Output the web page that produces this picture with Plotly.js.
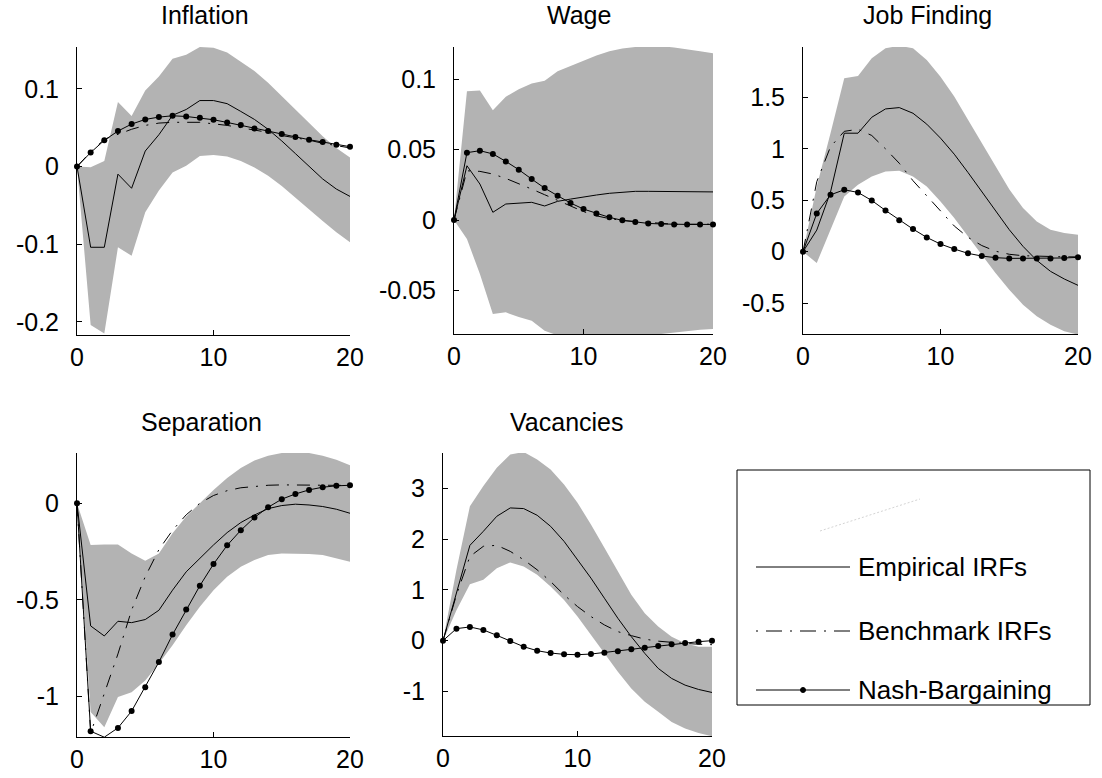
<!DOCTYPE html>
<html><head><meta charset="utf-8">
<script src="https://cdn.plot.ly/plotly-3.0.1.min.js"></script>
<style>html,body{margin:0;padding:0;background:#fff}</style>
</head><body><div id="chart" style="width:1102px;height:778px"></div>
<script>
// ---------- data ----------
const horizon = [0,1,2,3,4,5,6,7,8,9,10,11,12,13,14,15,16,17,18,19,20];
const panelTitles = ["Inflation","Wage","Job Finding","Separation","Vacancies"];
const seriesNames = ["Empirical IRFs","Benchmark IRFs","Nash-Bargaining"];
const xTickVals = [0,10,20];
const xTickText = ["0","10","20"];

const inflationTickVals = [0.1,0,-0.1,-0.2];
const inflationTickText = ["0.1","0","-0.1","-0.2"];
const inflationEmpirical = [0,-0.104,-0.104,-0.0098,-0.028,0.020,0.041,0.066,0.0735,0.085,0.085,0.081,0.071,0.0607,0.048,0.033,0.0167,0,-0.016,-0.029,-0.0385];
const inflationBenchmark = [0,0.019,0.035,0.042,0.048,0.053,0.056,0.057,0.057,0.057,0.055,0.053,0.050,0.047,0.044,0.040,0.037,0.034,0.030,0.027,0.024];
const inflationNash = [0,0.018,0.0338,0.0457,0.0547,0.0607,0.0637,0.0654,0.0645,0.0628,0.0603,0.0568,0.0534,0.0491,0.0457,0.0419,0.038,0.0346,0.0316,0.0282,0.0256];
const inflationUpper = [0,-0.001,0.007,0.083,0.065,0.098,0.116,0.139,0.144,0.154,0.153,0.147,0.135,0.123,0.108,0.091,0.0735,0.056,0.039,0.024,0.0115];
const inflationLower = [0,-0.204,-0.215,-0.104,-0.115,-0.059,-0.031,-0.0077,0.0009,0.0137,0.015,0.0128,0.0073,-0.0013,-0.012,-0.025,-0.040,-0.055,-0.070,-0.0846,-0.0974];

const wageTickVals = [0.1,0.05,0,-0.05];
const wageTickText = ["0.1","0.05","0","-0.05"];
const wageEmpirical = [0,0.0386,0.0256,0.0055,0.0114,0.0118,0.0126,0.010,0.0133,0.0149,0.0166,0.0178,0.019,0.0199,0.0204,0.0204,0.0204,0.0202,0.0202,0.0200,0.0200];
const wageBenchmark = [0,0.035,0.0346,0.0327,0.0296,0.026,0.022,0.018,0.014,0.010,0.006,0.003,0.001,-0.0003,-0.001,-0.002,-0.0025,-0.003,-0.003,-0.003,-0.003];
const wageNash = [0,0.0479,0.0493,0.047,0.0417,0.0358,0.0291,0.0227,0.0173,0.0121,0.0078,0.0047,0.0019,-0.0002,-0.0014,-0.0024,-0.0028,-0.0031,-0.0031,-0.0031,-0.0031];
const wageUpper = [0,0.0915,0.092,0.078,0.0877,0.093,0.097,0.099,0.1057,0.1095,0.113,0.117,0.120,0.122,0.123,0.1235,0.1235,0.1227,0.1216,0.120,0.1185];
const wageLower = [0,-0.0135,-0.0384,-0.0668,-0.0656,-0.069,-0.0716,-0.0787,-0.082,-0.084,-0.086,-0.087,-0.088,-0.088,-0.087,-0.085,-0.081,-0.080,-0.079,-0.078,-0.0775];

const jobTickVals = [1.5,1,0.5,0,-0.5];
const jobTickText = ["1.5","1","0.5","0","-0.5"];
const jobEmpirical = [0,0.21,0.58,1.152,1.152,1.307,1.388,1.401,1.346,1.24,1.104,0.948,0.770,0.586,0.392,0.214,0.052,-0.084,-0.191,-0.265,-0.327];
const jobBenchmark = [0,0.68,1.02,1.17,1.19,1.13,1.0,0.86,0.69,0.54,0.39,0.25,0.14,0.06,0.005,-0.025,-0.039,-0.045,-0.05,-0.05,-0.05];
const jobNash = [0,0.372,0.553,0.602,0.576,0.498,0.401,0.307,0.220,0.139,0.074,0.026,-0.016,-0.042,-0.058,-0.065,-0.065,-0.065,-0.065,-0.061,-0.055];
const jobUpper = [0,0.634,1.152,1.686,1.709,1.880,1.977,2.003,1.977,1.864,1.702,1.508,1.282,1.055,0.828,0.608,0.424,0.294,0.214,0.181,0.165];
const jobLower = [0,-0.11,0.214,0.537,0.65,0.731,0.78,0.786,0.731,0.634,0.489,0.327,0.149,-0.029,-0.207,-0.369,-0.515,-0.628,-0.709,-0.773,-0.806];

const sepTickVals = [0,-0.5,-1];
const sepTickText = ["0","-0.5","-1"];
const sepEmpirical = [0,-0.635,-0.687,-0.611,-0.618,-0.602,-0.554,-0.450,-0.355,-0.285,-0.216,-0.152,-0.100,-0.061,-0.028,-0.012,-0.005,-0.009,-0.017,-0.031,-0.052];
const sepBenchmark = [0,-1.19,-0.985,-0.78,-0.553,-0.38,-0.24,-0.14,-0.06,0.0,0.04,0.065,0.08,0.088,0.093,0.095,0.095,0.094,0.093,0.092,0.092];
const sepNash = [0,-1.18,-1.211,-1.163,-1.076,-0.952,-0.822,-0.680,-0.550,-0.427,-0.315,-0.218,-0.140,-0.074,-0.021,0.021,0.048,0.069,0.083,0.090,0.093];
const sepUpper = [0,-0.216,-0.213,-0.213,-0.260,-0.298,-0.260,-0.156,-0.069,0,0.069,0.130,0.182,0.221,0.246,0.260,0.263,0.260,0.246,0.225,0.196];
const sepLower = [0,-1.08,-1.16,-1.003,-0.978,-0.917,-0.830,-0.735,-0.631,-0.536,-0.450,-0.381,-0.329,-0.294,-0.268,-0.260,-0.260,-0.263,-0.268,-0.285,-0.303];

const vacTickVals = [3,2,1,0,-1];
const vacTickText = ["3","2","1","0","-1"];
const vacEmpirical = [0,0.95,1.879,2.156,2.452,2.617,2.604,2.472,2.254,1.958,1.595,1.233,0.837,0.442,0.079,-0.250,-0.547,-0.745,-0.877,-0.962,-1.022];
const vacBenchmark = [0,0.9,1.66,1.86,1.88,1.76,1.595,1.397,1.167,0.903,0.672,0.475,0.310,0.178,0.099,0.03,-0.01,-0.035,-0.055,-0.07,-0.08];
const vacNash = [0,0.237,0.270,0.211,0.105,-0.007,-0.119,-0.198,-0.244,-0.270,-0.277,-0.264,-0.237,-0.211,-0.171,-0.138,-0.105,-0.073,-0.046,-0.020,0];
const vacUpper = [0,1.4,2.65,3.05,3.41,3.67,3.72,3.57,3.375,3.08,2.72,2.29,1.83,1.365,0.903,0.541,0.277,0.079,-0.053,-0.119,-0.119];
const vacLower = [0,0.6,1.114,1.2,1.43,1.543,1.463,1.30,1.068,0.804,0.475,0.112,-0.25,-0.613,-0.943,-1.206,-1.404,-1.602,-1.734,-1.82,-1.885];

// ---------- assembly ----------
const panels = [
  {emp:inflationEmpirical, bench:inflationBenchmark, nash:inflationNash, up:inflationUpper, lo:inflationLower, tv:inflationTickVals, tt:inflationTickText},
  {emp:wageEmpirical, bench:wageBenchmark, nash:wageNash, up:wageUpper, lo:wageLower, tv:wageTickVals, tt:wageTickText},
  {emp:jobEmpirical, bench:jobBenchmark, nash:jobNash, up:jobUpper, lo:jobLower, tv:jobTickVals, tt:jobTickText},
  {emp:sepEmpirical, bench:sepBenchmark, nash:sepNash, up:sepUpper, lo:sepLower, tv:sepTickVals, tt:sepTickText},
  {emp:vacEmpirical, bench:vacBenchmark, nash:vacNash, up:vacUpper, lo:vacLower, tv:vacTickVals, tt:vacTickText}
];
const W = 1102, H = 778;
const boxes = [[77,350,47,335],[454,713,47,334],[803,1078,47,334],[77,350,453,737],[443,712,453,736]];
const yRanges = [[-0.217,0.154],[-0.081,0.123],[-0.8,1.99],[-1.21,0.26],[-1.88,3.70]];
const titlePos = [[205,15],[579,15],[927,15],[201,422],[567,422]];
const FONT = "Liberation Sans, Arial, sans-serif";
const TS = 25;
const DASHDOT = "13px,8px,2px,8px";
const LEG_DASHDOT = "2px,8px,16px,8px";
const BAND = "#b3b3b3";

const traces = [];
const layout = {
  width: W, height: H, margin: {l:0,r:0,t:0,b:0},
  paper_bgcolor: "#fff", plot_bgcolor: "rgba(0,0,0,0)",
  showlegend: false, font: {family: FONT, size: TS, color: "#000"},
  annotations: [], shapes: []
};
const px = v => v / W, py = v => 1 - v / H;

panels.forEach((p, i) => {
  const n = i === 0 ? "" : String(i + 1);
  const xa = "x" + n, ya = "y" + n;
  traces.push({
    x: horizon.concat(horizon.slice().reverse()),
    y: p.up.concat(p.lo.slice().reverse()),
    xaxis: xa, yaxis: ya, type: "scatter", mode: "lines",
    fill: "toself", fillcolor: BAND, line: {width: 0, color: BAND}, hoverinfo: "skip"
  });
  traces.push({x: horizon, y: p.emp, xaxis: xa, yaxis: ya, type: "scatter", mode: "lines",
    name: seriesNames[0], line: {color: "#000", width: 1}});
  traces.push({x: horizon, y: p.bench, xaxis: xa, yaxis: ya, type: "scatter", mode: "lines",
    name: seriesNames[1], line: {color: "#000", width: 1, dash: DASHDOT}});
  traces.push({x: horizon, y: p.nash, xaxis: xa, yaxis: ya, type: "scatter", mode: "lines+markers",
    name: seriesNames[2], line: {color: "#000", width: 1}, marker: {color: "#000", size: 6}, cliponaxis: false});

  const b = boxes[i];
  layout["xaxis" + n] = {
    domain: [px(b[0]), px(b[1])], anchor: ya, range: [0, 20],
    showgrid: false, zeroline: false, showline: true, linecolor: "#000", linewidth: 1,
    ticks: "inside", ticklen: 5, tickcolor: "#000", tickwidth: 1,
    tickmode: "array", tickvals: xTickVals, ticktext: xTickText,
    tickfont: {family: FONT, size: TS, color: "#000"}, fixedrange: true
  };
  layout["yaxis" + n] = {
    domain: [py(b[3]), py(b[2])], anchor: xa, range: yRanges[i],
    showgrid: false, zeroline: false, showline: true, linecolor: "#000", linewidth: 1,
    ticks: "inside", ticklen: 5, tickcolor: "#000", tickwidth: 1,
    tickmode: "array", tickvals: p.tv, ticktext: p.tt, ticklabelstandoff: 12,
    tickfont: {family: FONT, size: TS, color: "#000"}, fixedrange: true
  };
  layout.annotations.push({
    text: panelTitles[i], xref: "paper", yref: "paper",
    x: px(titlePos[i][0]), y: py(titlePos[i][1]), xanchor: "center", yanchor: "middle",
    showarrow: false, font: {family: FONT, size: TS, color: "#000"}
  });
});

// legend box (drawn by hand to match the reference geometry)
layout.shapes.push({type: "rect", xref: "paper", yref: "paper",
  x0: px(737), x1: px(1090), y0: py(705), y1: py(470), line: {color: "#000", width: 1}, fillcolor: "rgba(0,0,0,0)"});
layout.shapes.push({type: "line", xref: "paper", yref: "paper",
  x0: px(820), x1: px(920), y0: py(531), y1: py(499), line: {color: "#d4d4d4", width: 1, dash: "2px,2px"}});
const legY = [567, 631, 690];
const legDash = ["solid", LEG_DASHDOT, "solid"];
legY.forEach((yy, k) => {
  layout.shapes.push({type: "line", xref: "paper", yref: "paper",
    x0: px(756), x1: px(850), y0: py(yy), y1: py(yy), line: {color: "#000", width: 1, dash: legDash[k]}});
  layout.annotations.push({text: seriesNames[k], xref: "paper", yref: "paper",
    x: px(856), y: py(yy), xanchor: "left", yanchor: "middle", showarrow: false,
    font: {family: FONT, size: 26, color: "#000"}});
});
layout.shapes.push({type: "circle", xref: "paper", yref: "paper",
  x0: px(800.5), x1: px(805.5), y0: py(692.5), y1: py(687.5), fillcolor: "#000", line: {color: "#000", width: 1}});

Plotly.newPlot("chart", traces, layout, {staticPlot: true, displayModeBar: false});
</script></body></html>
